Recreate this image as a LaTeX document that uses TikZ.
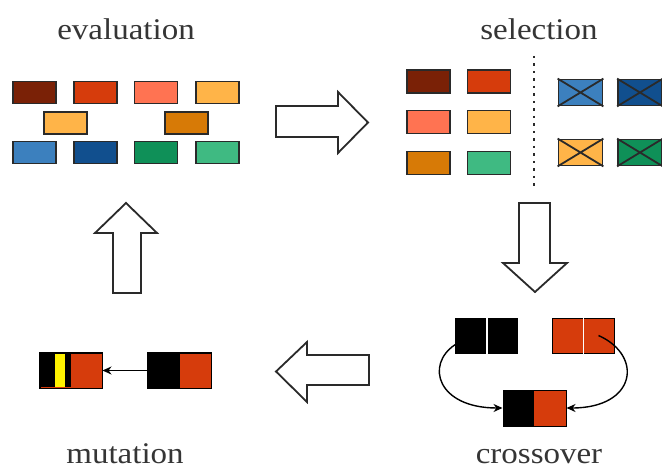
\documentclass[tikz,border=0pt]{standalone}
\usepackage{fontspec}
\setmainfont{Liberation Serif}
\usetikzlibrary{arrows.meta}
\definecolor{cMaroon}{HTML}{7A2106}
\definecolor{cRed}{HTML}{D63C0C}
\definecolor{cSalmon}{HTML}{FF7352}
\definecolor{cLOrange}{HTML}{FFB448}
\definecolor{cDOrange}{HTML}{D77A06}
\definecolor{cSteel}{HTML}{3C80BE}
\definecolor{cNavy}{HTML}{114F8E}
\definecolor{cGreen}{HTML}{0F9058}
\definecolor{cLGreen}{HTML}{3FBA82}
\definecolor{cText}{HTML}{353535}
\definecolor{cEdge}{HTML}{2A2A2A}
\tikzset{
  gene/.style={draw=cEdge, line width=1.8pt, minimum width=43pt, minimum height=22pt, inner sep=0pt, fill=#1},
  xgene/.style={draw=cEdge, line width=1.8pt, minimum width=44pt, minimum height=26pt, inner sep=0pt, fill=#1},
  half/.style={draw=black, line width=1pt, minimum width=31pt, minimum height=35pt, inner sep=0pt, fill=#1},
  blockarrow/.style={draw=cEdge, line width=1.8pt, fill=white, line join=miter},
  caption/.style={font=\fontsize{30}{34}\selectfont, text=cText, anchor=base, inner sep=0pt},
  link/.style={draw=black, line width=1.4pt, -{Stealth[length=9pt,width=8pt]}},
}
\begin{document}
\begin{tikzpicture}[x=1pt,y=-1pt]
\useasboundingbox (0,0) rectangle (662,468);
\fill[white] (0,0) rectangle (662,468);

% captions
\node[caption] (tEval) at (126,40) {\scalebox{1.1}[1]{evaluation}};
\node[caption] (tSel) at (539,40) {\scalebox{1.1}[1]{selection}};
\node[caption] (tMut) at (125,463) {\scalebox{1.1}[1]{mutation}};
\node[caption] (tCross) at (539,463) {\scalebox{1.1}[1]{crossover}};

% evaluation population
\node[gene=cMaroon] (e1) at (34.5,92.5) {};
\node[gene=cRed] (e2) at (95.5,92.5) {};
\node[gene=cSalmon] (e3) at (156,92.5) {};
\node[gene=cLOrange] (e4) at (217.5,92.5) {};
\node[gene=cLOrange] (e5) at (65.5,123) {};
\node[gene=cDOrange] (e6) at (186.5,123) {};
\node[gene=cSteel] (e7) at (34.5,152.5) {};
\node[gene=cNavy] (e8) at (95.5,152.5) {};
\node[gene=cGreen] (e9) at (156,152.5) {};
\node[gene=cLGreen] (e10) at (217.5,152.5) {};

% selection
\node[gene=cMaroon, minimum height=23pt] (s1) at (428.5,81.5) {};
\node[gene=cRed, minimum height=23pt] (s2) at (489,81.5) {};
\node[gene=cSalmon, minimum height=23pt] (s3) at (428.5,122) {};
\node[gene=cLOrange, minimum height=23pt] (s4) at (489,122) {};
\node[gene=cDOrange, minimum height=23pt] (s5) at (428.5,163) {};
\node[gene=cLGreen, minimum height=23pt] (s6) at (489,163) {};

\draw[cEdge, line width=1.8pt, dash pattern=on 2.5pt off 5pt] (534,56) -- (534,186);

\foreach \n/\c/\x/\y in {x1/cSteel/580.5/92.5, x2/cNavy/640/92.5, x3/cLOrange/580.5/152.5, x4/cGreen/640/152.5}{
  \node[xgene=\c] (\n) at (\x,\y) {};
  \draw[cEdge, line width=1.8pt] (\n.north west) -- (\n.south east) (\n.south west) -- (\n.north east);
}

% block arrows
\draw[blockarrow] (276,106) -- (338,106) -- (338,92) -- (368,122.5) -- (338,153) -- (338,137) -- (276,137) -- cycle;
\draw[blockarrow] (519,203) -- (550,203) -- (550,263) -- (567,263) -- (535,292) -- (503,263) -- (519,263) -- cycle;
\draw[blockarrow] (369,355) -- (307,355) -- (307,342) -- (276,371.5) -- (307,402) -- (307,385) -- (369,385) -- cycle;
\draw[blockarrow] (113,293) -- (113,233) -- (95,233) -- (126,203) -- (157,233) -- (141,233) -- (141,293) -- cycle;

% crossover
\node[half=black] (pA1) at (471,335.5) {};
\node[half=black] (pA2) at (502,335.5) {};
\draw[white, line width=1.2pt] (pA1.north east) -- (pA1.south east);
\node[half=cRed] (pB1) at (567.5,335.5) {};
\node[half=cRed] (pB2) at (598.5,335.5) {};
\draw[white, line width=1.2pt] (pB1.north east) -- (pB1.south east);
\node[half=black, minimum width=30pt, minimum height=36pt] (c1) at (518,408) {};
\node[half=cRed, minimum width=33pt, minimum height=36pt] (c2) at (549.5,408) {};
\draw[link] (pA1.210) .. controls +(-30,20) and +(-65,0) .. (c1.west);
\draw[link] (pB2.center) .. controls +(45,20) and +(70,0) .. (c2.east);

% mutation
\node[half=cRed, minimum width=62pt] (mL) at (71,370.5) {};
\fill[black] (41,353.7) rectangle (55,387.3);
\fill[yellow] (55,353.7) rectangle (65,387.3);
\fill[black] (65,353.7) rectangle (71,387.3);
\draw[black, line width=1pt] (mL.north west) rectangle (mL.south east);
\node[half=cRed, minimum width=63pt] (mR) at (179.5,370.5) {};
\fill[black] (148.5,353.5) rectangle (180,387.5);
\draw[black, line width=1pt] (mR.north west) rectangle (mR.south east);
\draw[link] (mR.west) -- (mL.east);
\end{tikzpicture}
\end{document}
